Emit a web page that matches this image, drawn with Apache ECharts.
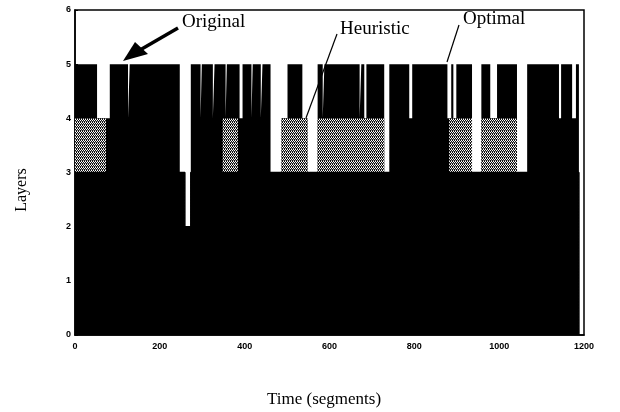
<!DOCTYPE html>
<html>
<head>
<meta charset="utf-8">
<script src="https://cdn.jsdelivr.net/npm/echarts@6/dist/echarts.min.js"></script>
<style>
  html, body { margin: 0; padding: 0; background: #fff; }
  #chart { width: 620px; height: 412px; }
</style>
</head>
<body>
<div id="chart"></div>
<script>
// step boundaries (time segment where the level starts) and layer counts
var origTime = [0, 52, 82, 125, 129, 247, 259, 273, 296, 299, 325, 329, 355, 358, 388, 395, 416, 419, 438, 442, 461, 487, 501, 536, 548, 572, 584, 588, 671, 675, 682, 687, 729, 741, 788, 795, 878, 887, 892, 899, 936, 958, 979, 995, 1042, 1066, 1141, 1146, 1172, 1181, 1188];
var origLayers = [5, 4, 5, 4, 5, 3, 2, 5, 4, 5, 4, 5, 4, 5, 4, 5, 4, 5, 4, 5, 3, 4, 5, 4, 3, 5, 4, 5, 4, 5, 4, 5, 3, 5, 4, 5, 4, 5, 4, 5, 3, 5, 4, 5, 3, 5, 4, 5, 4, 5, 0];

var heurTime = [0, 73, 259, 273, 348, 384, 487, 548, 572, 729, 882, 936, 958, 1042, 1188];
var heurLayers = [4, 3, 2, 3, 4, 3, 4, 3, 4, 3, 4, 3, 4, 3, 0];

var optTime = [0, 259, 273, 1188];
var optLayers = [3, 2, 3, 0];

var xTicks = [0, 200, 400, 600, 800, 1000, 1200];
var yTicks = [0, 1, 2, 3, 4, 5, 6];

function zip(t, v) {
  return t.map(function (x, i) { return [x, v[i]]; });
}

// stipple fill for the heuristic series
var pat = document.createElement('canvas');
pat.width = 4; pat.height = 3;
var pc = pat.getContext('2d');
pc.fillStyle = '#111';
pc.fillRect(0, 0, 4, 3);
pc.fillStyle = '#fff';
pc.fillRect(0, 0, 1, 1);
pc.fillRect(2, 0, 1, 1);
pc.fillRect(1, 2, 1, 1);
pc.fillRect(3, 2, 1, 1);
pc.fillStyle = '#999';
pc.fillRect(3, 1, 1, 1);
pc.fillRect(1, 1, 1, 1);

function stepSeries(name, data, fill, lw) {
  return {
    name: name,
    type: 'line',
    step: 'end',
    data: data,
    symbol: 'none',
    lineStyle: { width: lw, color: '#000' },
    areaStyle: { color: fill, opacity: 1 },
    silent: true
  };
}

var chart = echarts.init(document.getElementById('chart'), null, { renderer: 'canvas' });

chart.setOption({
  animation: false,
  grid: {
    left: 75, right: 36, top: 10, bottom: 77,
    containLabel: false, outerBoundsMode: 'none',
    show: true, borderColor: '#000', borderWidth: 1.5
  },
  xAxis: {
    type: 'value',
    min: xTicks[0], max: xTicks[xTicks.length - 1], interval: 200,
    axisLine: { show: true, lineStyle: { color: '#000', width: 1.5 } },
    axisTick: { show: false },
    splitLine: { show: false },
    axisLabel: {
      margin: 7, fontFamily: 'Liberation Sans', fontSize: 9, fontWeight: 'bold', color: '#000',
      formatter: function (v) { return String(v); }
    }
  },
  yAxis: {
    type: 'value',
    min: yTicks[0], max: yTicks[yTicks.length - 1], interval: 1,
    axisLine: { show: true, lineStyle: { color: '#000', width: 1.5 } },
    axisTick: { show: true, inside: true, length: 3, lineStyle: { color: '#000' } },
    splitLine: { show: false },
    axisLabel: { margin: 4, fontFamily: 'Liberation Sans', fontSize: 9, fontWeight: 'bold', color: '#000' }
  },
  series: [
    stepSeries('Original', zip(origTime, origLayers), '#000', 0),
    stepSeries('Heuristic', zip(heurTime, heurLayers), { image: pat, repeat: 'repeat' }, 0),
    stepSeries('Optimal', zip(optTime, optLayers), '#000', 1.5)
  ],
  graphic: [
    {
      type: 'text', x: 22, y: 190, rotation: Math.PI / 2,
      style: { text: 'Layers', font: '16px "Liberation Serif"', fill: '#000', align: 'center', verticalAlign: 'middle' }
    },
    {
      type: 'text', x: 324, y: 400,
      style: { text: 'Time (segments)', font: '17px "Liberation Serif"', fill: '#000', align: 'center', verticalAlign: 'middle' }
    },
    { type: 'text', left: 182, top: 13, style: { text: 'Original', font: '19px "Liberation Serif"', fill: '#000' } },
    { type: 'line', shape: { x1: 178, y1: 28, x2: 140, y2: 50 }, style: { stroke: '#000', lineWidth: 3.5 } },
    { type: 'polygon', shape: { points: [[123, 61], [135, 42], [148, 54]] }, style: { fill: '#000' } },
    { type: 'text', left: 340, top: 20, style: { text: 'Heuristic', font: '19px "Liberation Serif"', fill: '#000' } },
    { type: 'line', shape: { x1: 337, y1: 34, x2: 306, y2: 118 }, style: { stroke: '#000', lineWidth: 1.2 } },
    { type: 'text', left: 463, top: 10, style: { text: 'Optimal', font: '19px "Liberation Serif"', fill: '#000' } },
    { type: 'line', shape: { x1: 459, y1: 25, x2: 447, y2: 62 }, style: { stroke: '#000', lineWidth: 1.2 } }
  ]
});
</script>
</body>
</html>
